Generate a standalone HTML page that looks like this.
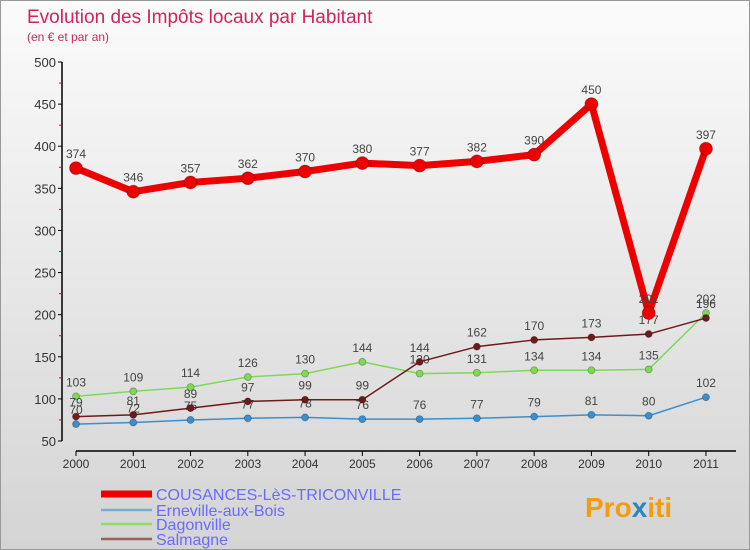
<!DOCTYPE html>
<html><head><meta charset="utf-8"><style>
body{margin:0;}
#wrap{width:750px;height:550px;position:relative;overflow:hidden;background:linear-gradient(#fbfbfb,#d4d4d4);box-sizing:border-box;border:1px solid #999;font-family:"Liberation Sans",sans-serif;}
</style></head><body>
<div id="wrap">
<svg id="svg" width="750" height="550" style="position:absolute;left:0;top:0">
<text x="26" y="22" font-size="19" fill="#d0245e" font-family="Liberation Sans, sans-serif">Evolution des Impôts locaux par Habitant</text>
<text x="26" y="40" font-size="12" fill="#d0245e" font-family="Liberation Sans, sans-serif">(en € et par an)</text>
<g id="axes"></g><g id="series"></g><g id="legend"></g>
<text x="584" y="516" font-size="28" font-weight="bold" fill="#f39c12" font-family="Liberation Sans, sans-serif">Pro<tspan fill="#2e86c1">x</tspan>iti</text>
</svg>
</div>
<script>
const years=[2000,2001,2002,2003,2004,2005,2006,2007,2008,2009,2010,2011];
const yTicks=[50,100,150,200,250,300,350,400,450,500];
const cousances=[374,346,357,362,370,380,377,382,390,450,202,397];
const erneville=[70,72,75,77,78,76,76,77,79,81,80,102];
const dagonville=[103,109,114,126,130,144,130,131,134,134,135,202];
const salmagne=[79,81,89,97,99,99,144,162,170,173,177,196];
const NS='http://www.w3.org/2000/svg';
function X(i){return 75+i*57.27;}
function Y(v){return 440-(v-50)*0.8422;}
function mk(tag,attrs,parent){const e=document.createElementNS(NS,tag);for(const k in attrs)e.setAttribute(k,attrs[k]);parent.appendChild(e);return e;}
const ax=document.getElementById('axes');
let yl=mk('line',{x1:61,y1:Y(500),x2:61,y2:Y(50),stroke:'#000','stroke-width':1.5},ax);


let xl=mk('line',{x1:X(0),y1:450,x2:735,y2:450,stroke:'#000','stroke-width':1.5},ax);


yTicks.forEach(v=>{
 mk('line',{x1:57,y1:Y(v),x2:61,y2:Y(v),stroke:'#000'},ax);
 if(v<500) mk('line',{x1:58,y1:Y(v+25),x2:61,y2:Y(v+25),stroke:'#e00'},ax);
 const t=mk('text',{x:55,y:Y(v)+5,'text-anchor':'end','font-size':13,fill:'#333'},ax);
 t.textContent=v;
 
 
});
years.forEach((yr,i)=>{
 mk('line',{x1:X(i),y1:450,x2:X(i),y2:455,stroke:'#000'},ax);
 const t=mk('text',{x:X(i),y:467,'text-anchor':'middle','font-size':12,fill:'#333'},ax);
 t.textContent=yr;
 
 
});
const sg=document.getElementById('series');
function series(data,color,w,r,name){
 const g=mk('g',{},sg);
 
 
 mk('polyline',{points:data.map((v,i)=>X(i)+','+Y(v)).join(' '),fill:'none',stroke:color,'stroke-width':w,'stroke-linejoin':'round'},g);
 data.forEach((v,i)=>{
  const c=mk('circle',{cx:X(i),cy:Y(v),r:r,fill:color,stroke:'rgba(0,0,0,0.3)','stroke-width':0.8},g);
  
  
  const t=mk('text',{x:X(i),y:Y(v)-10,'text-anchor':'middle','font-size':12,fill:'#444'},g);
  t.textContent=v;
  
  
 });
}
series(erneville,'#3a8fd0',1.5,3.5,'erneville-series');
series(dagonville,'#7ed957',1.5,3.5,'dagonville-series');
series(salmagne,'#6e1a1a',1.5,3.5,'salmagne-series');
series(cousances,'#ee0000',7,6.5,'cousances-series');
const lg=document.getElementById('legend');
const leg=[['COUSANCES-LèS-TRICONVILLE','#ee0000',7,493],['Erneville-aux-Bois','#7aaed0',2.5,509],['Dagonville','#8edc6a',2.5,523],['Salmagne','#9a6060',2.5,538]];
leg.forEach(l=>{
 const g=mk('g',{},lg);
 
 
 mk('line',{x1:100,y1:l[3],x2:151,y2:l[3],stroke:l[1],'stroke-width':l[2]},g);
 const t=mk('text',{x:155,y:l[3]+6,'font-size':16,fill:'#6a6aff'},g);
 t.textContent=l[0];
});
</script>
</body></html>
